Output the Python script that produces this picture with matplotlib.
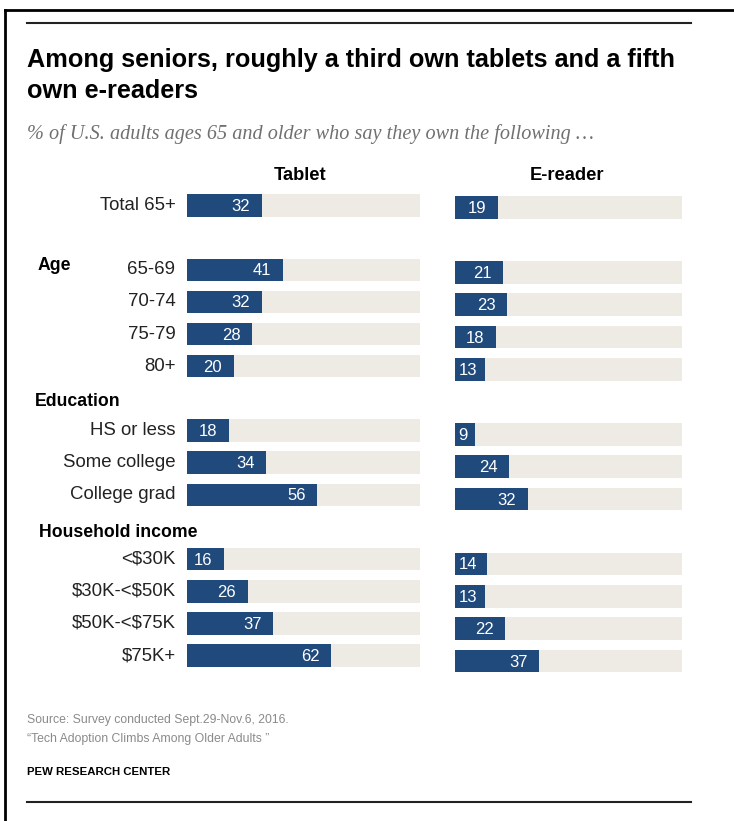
import matplotlib.pyplot as plt
from matplotlib.lines import Line2D

# Data
rows = ["Total 65+", "65-69", "70-74", "75-79", "80+",
        "HS or less", "Some college", "College grad",
        "<$30K", "$30K-<$50K", "$50K-<$75K", "$75K+"]
row_pos = [0, 2, 3, 4, 5, 7, 8, 9, 11, 12, 13, 14]
tablet = [32, 41, 32, 28, 20, 18, 34, 56, 16, 26, 37, 62]
ereader = [19, 21, 23, 18, 13, 9, 24, 32, 14, 13, 22, 37]
groups = ["Age", "Education", "Household income"]

W, H = 734, 821
NAVY = "#214a7c"
TRACK = "#eeebe5"

plt.rcParams["font.family"] = ["Liberation Sans", "DejaVu Sans"]

fig = plt.figure(figsize=(W / 100, H / 100), dpi=100)


def fy(y):
    return 1 - y / H


def fx(x):
    return x / W


def add_panel(x0, x1, top, bottom):
    ax = fig.add_axes([fx(x0), fy(bottom), fx(x1) - fx(x0), fy(top) - fy(bottom)])
    ax.set_xlim(0, 100)
    ax.set_ylim(14.5, -0.5)
    ax.axis("off")
    return ax


# panel extents in pixels (row 0 centre minus half pitch, row 14 centre plus half)
ax_t = add_panel(187, 420, 205.5 - 16.1, 205.5 + 14.5 * 32.15)
ax_e = add_panel(455, 682, 207.5 - 16.2, 207.5 + 14.5 * 32.4)

for ax, vals in [(ax_t, tablet), (ax_e, ereader)]:
    ax.barh(row_pos, [100] * len(vals), height=0.7, color=TRACK, lw=0)
    ax.barh(row_pos, vals, height=0.7, color=NAVY, lw=0)
    for p, v in zip(row_pos, vals):
        s = str(v)
        x = max(v - 5, 9.8 if len(s) > 1 else 5.5)
        ax.text(x, p + 0.03, s, ha="right", va="center", color="white", fontsize=12)

# row labels
for p, lab in zip(row_pos, rows):
    ax_t.text(-11.5 / 233, p, lab, transform=ax_t.get_yaxis_transform(),
              ha="right", va="center", fontsize=13.4, color="#222222",
              parse_math=False)

# column headers
fig.text(fx(300), fy(175), "Tablet", ha="center", va="center", fontsize=13.2,
         fontweight="bold", color="black")
fig.text(fx(567), fy(175), "E-reader", ha="center", va="center", fontsize=13.2,
         fontweight="bold", color="black")

# group headers
for (gx, gy), g in zip([(38, 265), (35, 401), (39, 532)], groups):
    fig.text(fx(gx), fy(gy), g, ha="left", va="center", fontsize=12.7,
             fontweight="bold", color="black")

# title and subtitle
fig.text(fx(27), fy(67), "Among seniors, roughly a third own tablets and a fifth",
         ha="left", va="baseline", fontsize=18.2, fontweight="bold", color="black")
fig.text(fx(27), fy(98), "own e-readers", ha="left", va="baseline", fontsize=18.2,
         fontweight="bold", color="black")
fig.text(fx(27), fy(139),
         "% of U.S. adults ages 65 and older who say they own the following \u2026",
         ha="left", va="baseline", fontsize=14.6, style="italic",
         family="Liberation Serif", color="#707070")

# footer
fig.text(fx(27), fy(723), "Source: Survey conducted Sept.29-Nov.6, 2016.",
         ha="left", va="baseline", fontsize=8.8, color="#8a8a8a")
fig.text(fx(27), fy(742), "\u201cTech Adoption Climbs Among Older Adults \u201d",
         ha="left", va="baseline", fontsize=8.8, color="#8a8a8a")
fig.text(fx(27), fy(775), "PEW RESEARCH CENTER", ha="left", va="baseline",
         fontsize=8.2, fontweight="bold", color="black")

# rules and frame
for y in (23, 802):
    fig.add_artist(Line2D([fx(27), fx(691)], [fy(y), fy(y)], color="#222222", lw=1.5))
fig.add_artist(Line2D([fx(5), fx(5)], [fy(10), 0], color="black", lw=2))
fig.add_artist(Line2D([fx(5), 1], [fy(10), fy(10)], color="black", lw=2))

fig.savefig("out.png", dpi=100, facecolor="white")
